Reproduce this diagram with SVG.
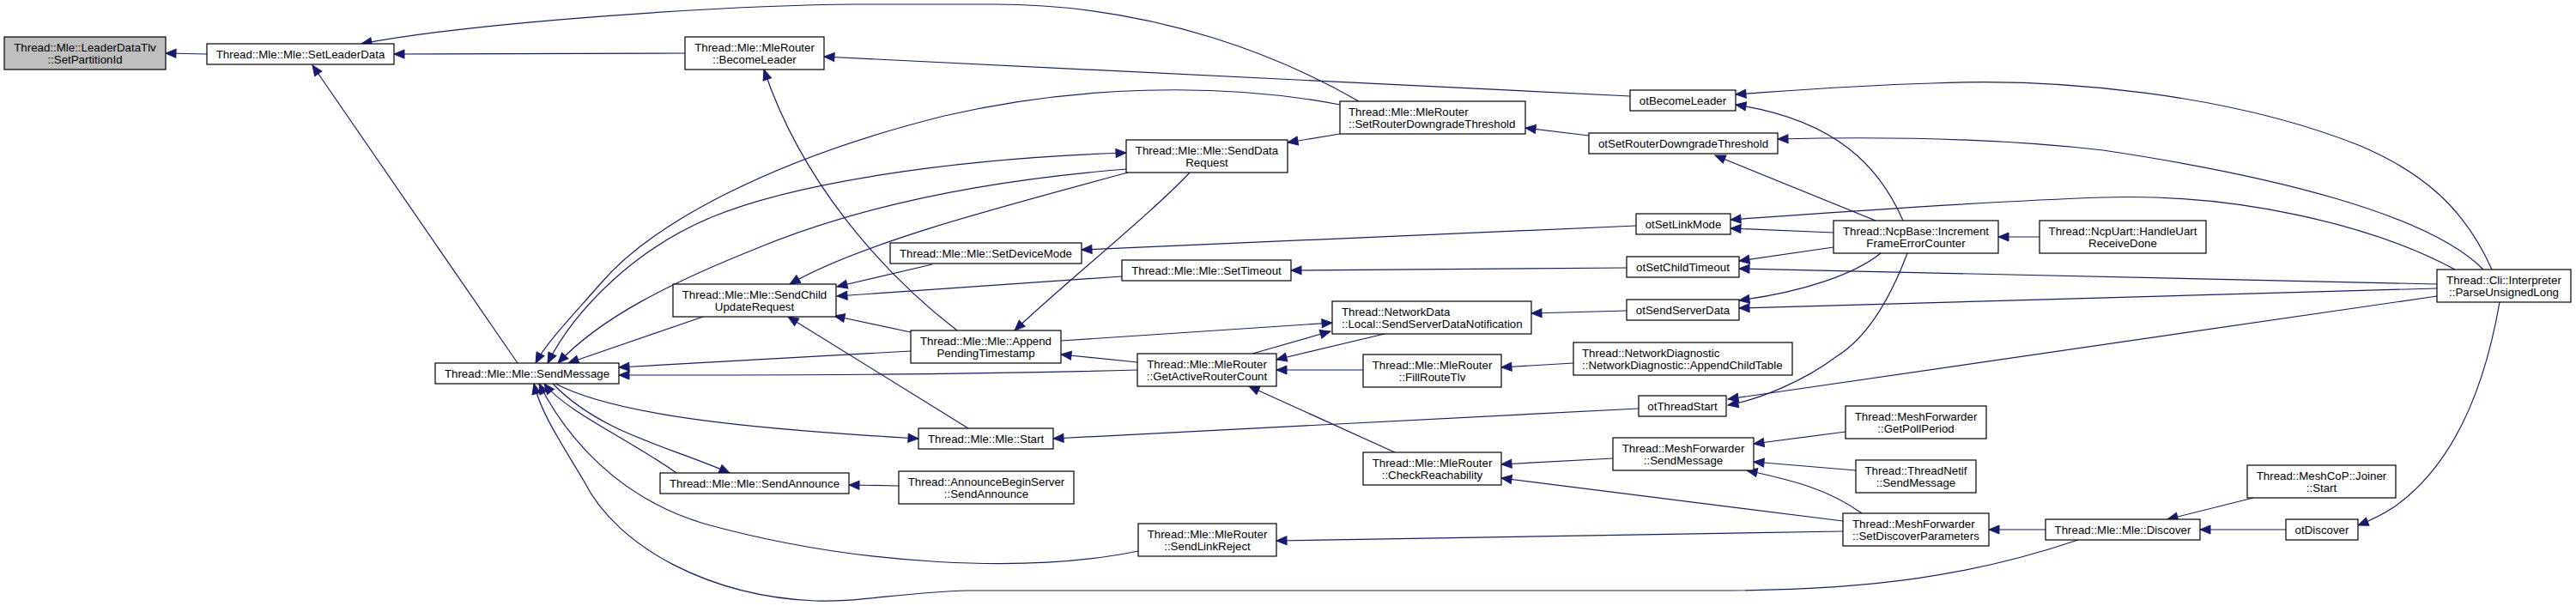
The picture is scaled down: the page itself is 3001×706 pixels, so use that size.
<svg xmlns="http://www.w3.org/2000/svg" width="3001" height="706" viewBox="0 0 3001 706">
<style>
.n rect{fill:#fff;stroke:#000;stroke-width:1.2}
.n.root rect{fill:#bfbfbf}
.n text{font-family:"Liberation Sans",Arial,sans-serif;font-size:13.3px;fill:#000;text-anchor:middle}
.n text.l{text-anchor:start}
.e path{fill:none;stroke:#191970;stroke-width:1.2;marker-end:url(#ah)}
.e path.bi{marker-start:url(#ahs)}
</style>
<defs>
<marker id="ah" markerUnits="userSpaceOnUse" markerWidth="12" markerHeight="10" refX="12" refY="5" orient="auto" overflow="visible">
<path d="M0,0 L12,5 L0,10 z" fill="#191970" stroke="#191970" stroke-width="1"/>
</marker>
<marker id="ahs" markerUnits="userSpaceOnUse" markerWidth="12" markerHeight="10" refX="12" refY="5" orient="auto-start-reverse" overflow="visible">
<path d="M0,0 L12,5 L0,10 z" fill="#191970" stroke="#191970" stroke-width="1"/>
</marker>
</defs>
<rect width="3001" height="706" fill="#fff"/>
<g class="e">
<path d="M241,63 L193,62"/>
<path d="M798,62 L459,63"/>
<path d="M1583,118 C1500,70 1350,5 1159,5 L1000,5 C850,6 560,25 421,51"/>
<path d="M603,423 L364,76"/>
<path d="M1899,112 L960,66"/>
<path d="M1115,385 C1050,335 940,230 890,81"/>
<path d="M1386,201 C1340,250 1240,330 1182,385"/>
<path d="M1561,156 L1500,166"/>
<path d="M1851,158 L1777,149"/>
<path d="M1561,122 C1420,95 1250,100 1100,135 C900,185 760,260 700,330 C665,370 636,400 624,423"/>
<path class="bi" d="M638,423 C670,360 740,290 829,253 C920,215 1100,185 1312,178"/>
<path d="M1312,197 C1150,210 1000,240 880,290 C780,330 700,370 650,423"/>
<path d="M1314,201 C1150,245 1000,285 920,331"/>
<path d="M819,369 L662,423"/>
<path d="M1061,409 L721,428"/>
<path d="M1325,431 C1100,437 900,437 721,437"/>
<path d="M647,447 C720,485 880,500 1070,511"/>
<path d="M644,447 C700,505 780,520 850,551"/>
<path d="M788,551 C730,510 660,480 634,447"/>
<path d="M1326,642 C1200,668 1000,660 820,610 C720,580 660,510 628,447"/>
<path d="M2421,629 C2300,670 2180,688 2000,688 L1128,688 C1050,690 1000,702 950,700 C830,695 720,640 680,560 C650,510 630,480 622,447"/>
<path d="M1047,566 L989,565"/>
<path d="M1086,308 L975,334"/>
<path d="M1307,322 L975,345"/>
<path d="M1061,387 L972,368"/>
<path d="M1128,499 L918,369"/>
<path d="M1906,263 L1260,291"/>
<path d="M1895,312 L1504,315"/>
<path d="M1895,362 L1784,365"/>
<path d="M1236,397 L1552,376"/>
<path d="M1459,412 L1550,386"/>
<path d="M1617,388 L1487,419"/>
<path d="M1588,431 L1487,431"/>
<path d="M1625,527 L1455,450"/>
<path d="M1325,422 L1236,413"/>
<path d="M1833,423 L1749,428"/>
<path d="M1909,476 L1227,511"/>
<path d="M1879,534 L1749,541"/>
<path d="M2147,607 L1749,557"/>
<path d="M2150,503 L2043,517"/>
<path d="M2162,548 L2043,538"/>
<path d="M2169,598 C2130,570 2090,560 2035,548"/>
<path d="M2147,619 L1487,630"/>
<path d="M2383,617 L2317,617"/>
<path d="M2625,580 L2525,605"/>
<path d="M2663,617 L2563,617"/>
<path d="M2912,352 C2895,450 2860,540 2790,590 C2775,600 2760,607 2747,612"/>
<path d="M2903,314 C2870,240 2820,200 2750,170 C2600,110 2400,90 2250,97 C2150,100 2080,106 2022,110"/>
<path d="M2217,257 C2190,195 2140,140 2022,122"/>
<path d="M2893,314 C2830,250 2650,205 2450,175 C2300,158 2150,160 2071,162"/>
<path d="M2185,257 L1998,181"/>
<path d="M2860,314 C2760,260 2600,225 2450,230 C2300,235 2100,250 2016,256"/>
<path d="M2136,271 L2016,266"/>
<path d="M2136,288 L2026,304"/>
<path d="M2839,331 L2026,313"/>
<path d="M2191,295 C2160,320 2100,340 2026,350"/>
<path d="M2839,336 L2026,359"/>
<path d="M2839,345 L2013,465"/>
<path d="M2222,295 C2205,340 2180,390 2140,415 C2100,445 2050,465 2013,472"/>
<path d="M2376,276 L2328,276"/>
</g>
<g id="n_SetPartitionId" class="n root"><rect x="5" y="43" width="188" height="38"/><text x="99" y="60">Thread::Mle::LeaderDataTlv</text><text x="99" y="74">::SetPartitionId</text></g>
<g id="n_SetLeaderData" class="n"><rect x="241" y="51" width="218" height="24"/><text x="350" y="67.5">Thread::Mle::Mle::SetLeaderData</text></g>
<g id="n_BecomeLeader" class="n"><rect x="798" y="43" width="162" height="38"/><text x="879" y="60">Thread::Mle::MleRouter</text><text x="879" y="74">::BecomeLeader</text></g>
<g id="n_SendMessage" class="n"><rect x="507" y="423" width="214" height="24"/><text x="614" y="439.5">Thread::Mle::Mle::SendMessage</text></g>
<g id="n_SendChildUpdateRequest" class="n"><rect x="784" y="331" width="190" height="38"/><text x="879" y="348">Thread::Mle::Mle::SendChild</text><text x="879" y="362">UpdateRequest</text></g>
<g id="n_SendAnnounce" class="n"><rect x="769" y="551" width="220" height="24"/><text x="879" y="567.5">Thread::Mle::Mle::SendAnnounce</text></g>
<g id="n_SetRouterDowngradeThreshold" class="n"><rect x="1561" y="118" width="216" height="38"/><text class="l" x="1571" y="135">Thread::Mle::MleRouter</text><text class="l" x="1571" y="149">::SetRouterDowngradeThreshold</text></g>
<g id="n_SendDataRequest" class="n"><rect x="1312" y="163" width="188" height="38"/><text x="1406" y="180">Thread::Mle::Mle::SendData</text><text x="1406" y="194">Request</text></g>
<g id="n_otBecomeLeader" class="n"><rect x="1899" y="105" width="123" height="24"/><text x="1960.5" y="121.5">otBecomeLeader</text></g>
<g id="n_otSetRouterDowngradeThreshold" class="n"><rect x="1851" y="155" width="220" height="24"/><text x="1961" y="171.5">otSetRouterDowngradeThreshold</text></g>
<g id="n_otSetLinkMode" class="n"><rect x="1906" y="249" width="110" height="24"/><text x="1961" y="265.5">otSetLinkMode</text></g>
<g id="n_SetDeviceMode" class="n"><rect x="1037" y="283" width="223" height="24"/><text x="1148.5" y="299.5">Thread::Mle::Mle::SetDeviceMode</text></g>
<g id="n_SetTimeout" class="n"><rect x="1307" y="303" width="197" height="24"/><text x="1405.5" y="319.5">Thread::Mle::Mle::SetTimeout</text></g>
<g id="n_otSetChildTimeout" class="n"><rect x="1895" y="299" width="131" height="24"/><text x="1960.5" y="315.5">otSetChildTimeout</text></g>
<g id="n_SendServerDataNotification" class="n"><rect x="1552" y="351" width="232" height="38"/><text class="l" x="1563" y="368">Thread::NetworkData</text><text class="l" x="1563" y="382">::Local::SendServerDataNotification</text></g>
<g id="n_otSendServerData" class="n"><rect x="1895" y="349" width="131" height="24"/><text x="1960.5" y="365.5">otSendServerData</text></g>
<g id="n_AppendPendingTimestamp" class="n"><rect x="1061" y="385" width="175" height="38"/><text x="1148.5" y="402">Thread::Mle::Mle::Append</text><text x="1148.5" y="416">PendingTimestamp</text></g>
<g id="n_GetActiveRouterCount" class="n"><rect x="1325" y="412" width="162" height="38"/><text x="1406" y="429">Thread::Mle::MleRouter</text><text x="1406" y="443">::GetActiveRouterCount</text></g>
<g id="n_FillRouteTlv" class="n"><rect x="1588" y="413" width="161" height="38"/><text x="1668.5" y="430">Thread::Mle::MleRouter</text><text x="1668.5" y="444">::FillRouteTlv</text></g>
<g id="n_AppendChildTable" class="n"><rect x="1833" y="399" width="255" height="38"/><text class="l" x="1843" y="416">Thread::NetworkDiagnostic</text><text class="l" x="1843" y="430">::NetworkDiagnostic::AppendChildTable</text></g>
<g id="n_otThreadStart" class="n"><rect x="1909" y="461" width="102" height="24"/><text x="1960" y="477.5">otThreadStart</text></g>
<g id="n_Start" class="n"><rect x="1070" y="499" width="157" height="24"/><text x="1148.5" y="515.5">Thread::Mle::Mle::Start</text></g>
<g id="n_CheckReachability" class="n"><rect x="1588" y="527" width="161" height="38"/><text x="1668.5" y="544">Thread::Mle::MleRouter</text><text x="1668.5" y="558">::CheckReachability</text></g>
<g id="n_AnnounceBeginServerSendAnnounce" class="n"><rect x="1047" y="549" width="204" height="38"/><text x="1149" y="566">Thread::AnnounceBeginServer</text><text x="1149" y="580">::SendAnnounce</text></g>
<g id="n_MeshForwarderSendMessage" class="n"><rect x="1879" y="510" width="164" height="38"/><text x="1961" y="527">Thread::MeshForwarder</text><text x="1961" y="541">::SendMessage</text></g>
<g id="n_SendLinkReject" class="n"><rect x="1326" y="610" width="161" height="38"/><text x="1406.5" y="627">Thread::Mle::MleRouter</text><text x="1406.5" y="641">::SendLinkReject</text></g>
<g id="n_IncrementFrameErrorCounter" class="n"><rect x="2136" y="257" width="192" height="38"/><text x="2232" y="274">Thread::NcpBase::Increment</text><text x="2232" y="288">FrameErrorCounter</text></g>
<g id="n_HandleUartReceiveDone" class="n"><rect x="2376" y="257" width="194" height="38"/><text x="2473" y="274">Thread::NcpUart::HandleUart</text><text x="2473" y="288">ReceiveDone</text></g>
<g id="n_ParseUnsignedLong" class="n"><rect x="2839" y="314" width="156" height="38"/><text x="2917" y="331">Thread::Cli::Interpreter</text><text x="2917" y="345">::ParseUnsignedLong</text></g>
<g id="n_GetPollPeriod" class="n"><rect x="2150" y="473" width="164" height="38"/><text x="2232" y="490">Thread::MeshForwarder</text><text x="2232" y="504">::GetPollPeriod</text></g>
<g id="n_ThreadNetifSendMessage" class="n"><rect x="2162" y="536" width="140" height="38"/><text x="2232" y="553">Thread::ThreadNetif</text><text x="2232" y="567">::SendMessage</text></g>
<g id="n_SetDiscoverParameters" class="n"><rect x="2147" y="598" width="170" height="38"/><text class="l" x="2158" y="615">Thread::MeshForwarder</text><text class="l" x="2158" y="629">::SetDiscoverParameters</text></g>
<g id="n_Discover" class="n"><rect x="2383" y="605" width="180" height="24"/><text x="2473" y="621.5">Thread::Mle::Mle::Discover</text></g>
<g id="n_JoinerStart" class="n"><rect x="2618" y="542" width="173" height="38"/><text x="2704.5" y="559">Thread::MeshCoP::Joiner</text><text x="2704.5" y="573">::Start</text></g>
<g id="n_otDiscover" class="n"><rect x="2663" y="605" width="84" height="24"/><text x="2705" y="621.5">otDiscover</text></g>
</svg>
